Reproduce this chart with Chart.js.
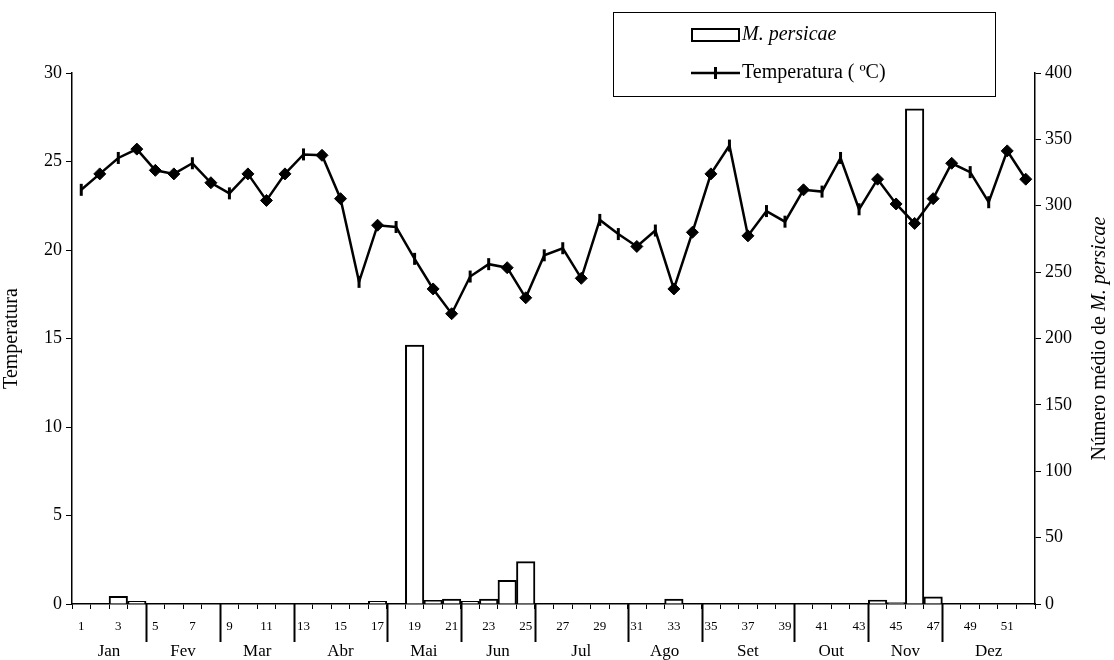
<!DOCTYPE html>
<html>
<head>
<meta charset="utf-8">
<script src="https://cdn.jsdelivr.net/npm/chart.js@4.4.1/dist/chart.umd.min.js"></script>
<style>
html,body{margin:0;padding:0;background:#fff;}
#c{display:block;}
</style>
</head>
<body>
<canvas id="c" width="1114" height="660"></canvas>
<script>
// ---- data ----
const weeks = [1,2,3,4,5,6,7,8,9,10,11,12,13,14,15,16,17,18,19,20,21,22,23,24,25,26,
               27,28,29,30,31,32,33,34,35,36,37,38,39,40,41,42,43,44,45,46,47,48,49,50,51,52];
const temperatura = [23.4,24.3,25.2,25.7,24.5,24.3,24.9,23.8,23.2,24.3,22.8,24.3,25.4,25.35,22.9,18.2,
                     21.4,21.3,19.5,17.8,16.4,18.5,19.2,19.0,17.3,19.7,20.1,18.4,21.7,20.9,20.2,21.1,
                     17.8,21.0,24.3,25.9,20.8,22.2,21.6,23.4,23.3,25.2,22.3,24.0,22.6,21.5,22.9,24.9,
                     24.4,22.7,25.6,24.0];
// marker per week: 'd' = diamond, '|' = vertical dash
const marcador = ['|','d','|','d','d','d','|','d','|','d','d','d','|','d','d','|',
                  'd','|','|','d','d','|','|','d','d','|','|','d','|','|','d','|',
                  'd','d','d','|','d','|','|','d','|','|','|','d','d','d','d','d',
                  '|','|','d','d'];
const persicae = [null,null,5.7,2,null,null,null,null,null,null,null,null,null,null,null,null,
                  2,null,195,2.8,3.8,2,3.8,17.8,31.9,null,null,null,null,null,null,null,
                  3.8,null,null,null,null,null,null,null,null,null,null,3,1,373,5.4,null,
                  null,null,null,null];
const meses = ['Jan','Fev','Mar','Abr','Mai','Jun','Jul','Ago','Set','Out','Nov','Dez'];
const limitesMeses = [4,8,12,17,21,25,30,34,39,43,47]; // separator after these weeks
const ticksTemp = [0,5,10,15,20,25,30];
const ticksNum = [0,50,100,150,200,250,300,350,400];

const FONT = "'Liberation Serif','Times New Roman',serif";

const plotLeft = 72, plotRight = 1035, plotTop = 73, plotBottom = 604;

const extras = {
  id: 'extras',
  afterDraw(chart) {
    const ctx = chart.ctx;
    const x = chart.scales.x;
    const area = chart.chartArea;
    ctx.save();
    // month separators
    ctx.strokeStyle = '#000';
    ctx.lineWidth = 2;
    const bounds = [area.left];
    limitesMeses.forEach(k => {
      const px = (x.getPixelForValue(k - 1) + x.getPixelForValue(k)) / 2;
      bounds.push(px);
      ctx.beginPath();
      ctx.moveTo(Math.round(px) + 0.5, area.bottom);
      ctx.lineTo(Math.round(px) + 0.5, area.bottom + 38);
      ctx.stroke();
    });
    bounds.push(area.right);
    // month labels
    ctx.fillStyle = '#000';
    ctx.font = '17px ' + FONT;
    ctx.textAlign = 'center';
    ctx.textBaseline = 'middle';
    meses.forEach((m, i) => {
      ctx.fillText(m, (bounds[i] + bounds[i + 1]) / 2, 652);
    });
    // right axis title (mixed italic), rotated
    const cy = (area.top + area.bottom) / 2;
    const p1 = 'Número médio de ';
    const p2 = 'M. persicae';
    ctx.font = '20px ' + FONT;
    const w1 = ctx.measureText(p1).width;
    ctx.font = 'italic 20px ' + FONT;
    const w2 = ctx.measureText(p2).width;
    ctx.translate(1100, cy);
    ctx.rotate(-Math.PI / 2);
    ctx.textAlign = 'left';
    ctx.textBaseline = 'middle';
    const start = -(w1 + w2) / 2;
    ctx.font = '20px ' + FONT;
    ctx.fillText(p1, start, 0);
    ctx.font = 'italic 20px ' + FONT;
    ctx.fillText(p2, start + w1, 0);
    ctx.restore();

    // legend
    ctx.save();
    ctx.strokeStyle = '#000';
    ctx.lineWidth = 1;
    ctx.strokeRect(613.5, 12.5, 382, 84);
    // bar symbol
    ctx.lineWidth = 2;
    ctx.fillStyle = '#fff';
    ctx.fillRect(692, 29, 47, 12);
    ctx.strokeRect(692, 29, 47, 12);
    ctx.fillStyle = '#000';
    ctx.font = 'italic 20px ' + FONT;
    ctx.textAlign = 'left';
    ctx.textBaseline = 'middle';
    ctx.fillText(chart.data.datasets[1].label, 742, 35);
    // line symbol
    ctx.lineWidth = 2.5;
    ctx.beginPath();
    ctx.moveTo(691, 73); ctx.lineTo(740, 73);
    ctx.stroke();
    ctx.lineWidth = 3;
    ctx.beginPath();
    ctx.moveTo(715.5, 67); ctx.lineTo(715.5, 79);
    ctx.stroke();
    ctx.font = '20px ' + FONT;
    ctx.fillText(chart.data.datasets[0].label, 742, 73);
    ctx.restore();
  }
};

new Chart(document.getElementById('c'), {
  type: 'bar',
  data: {
    labels: weeks.map(String),
    datasets: [
      {
        type: 'line',
        label: 'Temperatura ( ºC)',
        data: temperatura,
        yAxisID: 'y',
        borderColor: '#000',
        borderWidth: 2.5,
        tension: 0,
        pointStyle: marcador.map(m => m === 'd' ? 'rectRot' : 'line'),
        pointRotation: marcador.map(m => m === 'd' ? 0 : 90),
        pointRadius: marcador.map(m => m === 'd' ? 6 : 6),
        pointBorderWidth: marcador.map(m => m === 'd' ? 1 : 3),
        pointBackgroundColor: '#000',
        pointBorderColor: '#000',
        order: 1
      },
      {
        type: 'bar',
        label: 'M. persicae',
        data: persicae,
        yAxisID: 'y1',
        backgroundColor: '#fff',
        borderColor: '#000',
        borderWidth: 2,
        barPercentage: 1,
        categoryPercentage: 1,
        order: 2
      }
    ]
  },
  options: {
    responsive: false,
    animation: false,
    layout: { padding: { top: plotTop, left: 0, right: 0, bottom: 0 } },
    plugins: { legend: { display: false }, tooltip: { enabled: false } },
    scales: {
      x: {
        offset: true,
        grid: { offset: true, drawOnChartArea: false, drawTicks: true, tickLength: 5, color: '#000', lineWidth: 1 },
        border: { display: true, color: '#000', width: 1.5 },
        ticks: {
          autoSkip: false, maxRotation: 0, minRotation: 0, padding: 10,
          color: '#000', font: { family: FONT, size: 13 },
          callback: function (v, i) { return i % 2 === 0 ? weeks[i] : ''; }
        },
        afterFit(s) { s.height = 660 - plotBottom; }
      },
      y: {
        position: 'left',
        min: 0, max: 30,
        afterBuildTicks(s) { s.ticks = ticksTemp.map(v => ({ value: v })); },
        grid: { drawOnChartArea: false, drawTicks: true, tickLength: 6, color: '#000' },
        border: { display: true, color: '#000', width: 1.5 },
        ticks: { color: '#000', padding: 4, font: { family: FONT, size: 18 } },
        title: { display: true, text: 'Temperatura', color: '#000', font: { family: FONT, size: 20 }, padding: 0 },
        afterFit(s) { s.width = plotLeft; }
      },
      y1: {
        position: 'right',
        min: 0, max: 400,
        afterBuildTicks(s) { s.ticks = ticksNum.map(v => ({ value: v })); },
        grid: { drawOnChartArea: false, drawTicks: true, tickLength: 6, color: '#000' },
        border: { display: true, color: '#000', width: 1.5 },
        ticks: { color: '#000', padding: 4, font: { family: FONT, size: 18 } },
        afterFit(s) { s.width = 1114 - plotRight; }
      }
    }
  },
  plugins: [extras]
});
</script>
</body>
</html>
